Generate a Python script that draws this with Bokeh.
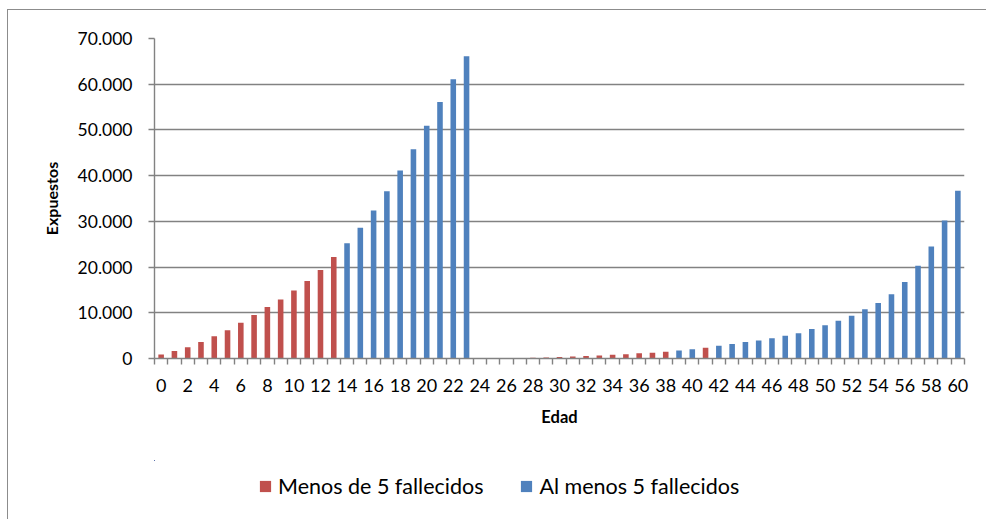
from bokeh.plotting import figure
from bokeh.layouts import column
from bokeh.models import ColumnDataSource, FixedTicker, Legend, LegendItem
from bokeh.embed import file_html
from bokeh.resources import INLINE

# ---- data ----
edad = list(range(61))
expuestos = [
    850, 1650, 2450, 3600, 4850, 6200, 7800, 9500, 11250, 12900,
    14850, 16950, 19350, 22200, 25200, 28600, 32400, 36600, 41100, 45800,
    50900, 56100, 61100, 66100, 20, 40, 70, 110, 160, 230,
    330, 430, 560, 650, 800, 950, 1150, 1250, 1450, 1750,
    2050, 2350, 2800, 3150, 3600, 3950, 4450, 4950, 5550, 6450,
    7300, 8250, 9350, 10800, 12150, 14050, 16750, 20300, 24500, 30200,
    36700,
]
grupo = (["Menos de 5 fallecidos"] * 14 + ["Al menos 5 fallecidos"] * 10 +
         ["Menos de 5 fallecidos"] * 15 + ["Al menos 5 fallecidos"] * 2 +
         ["Menos de 5 fallecidos"] * 1 + ["Al menos 5 fallecidos"] * 19)
series = ["Menos de 5 fallecidos", "Al menos 5 fallecidos"]
colores = ["#C0504D", "#4F81BD"]
y_ticks = [0, 10000, 20000, 30000, 40000, 50000, 60000, 70000]
y_labels = ["0", "10.000", "20.000", "30.000", "40.000", "50.000", "60.000", "70.000"]
x_ticks = list(range(0, 61, 2))

FONT = "Lato"
GRIS = "#828282"

p = figure(width=986, height=460, output_backend="svg", toolbar_location=None,
           x_range=(-0.5, 60.5), y_range=(0, 70000))
p.min_border_left = 154
p.min_border_right = 22
p.min_border_top = 38
p.min_border_bottom = 102
p.outline_line_color = None
p.background_fill_color = "white"
p.border_fill_alpha = 0

# legend strip (separate canvas so the legend can sit below the axis title);
# its ranges keep the bars out of view, only the legend is shown
pl = figure(width=986, height=59, output_backend="svg", toolbar_location=None,
            x_range=(1000, 1001), y_range=(-2000000, -1000000))
pl.min_border = 0
pl.axis.visible = False
pl.grid.visible = False
pl.outline_line_color = None
pl.background_fill_alpha = 0
pl.border_fill_alpha = 0

items = []
for s, c in zip(series, colores):
    xs = [e for e, g in zip(edad, grupo) if g == s]
    ys = [v for v, g in zip(expuestos, grupo) if g == s]
    src = ColumnDataSource(dict(x=xs, top=ys))
    p.vbar(x="x", top="top", width=0.42, bottom=0, source=src,
           fill_color=c, line_color=None)
    r = pl.vbar(x="x", top="top", width=0.42, bottom=0, source=src,
                fill_color=c, line_color=None)
    items.append(LegendItem(label=s, renderers=[r]))

# grid
p.xgrid.grid_line_color = None
p.ygrid.grid_line_color = GRIS
p.ygrid.grid_line_width = 1.4
p.ygrid.ticker = FixedTicker(ticks=y_ticks)

# y axis
ya = p.yaxis[0]
ya.ticker = FixedTicker(ticks=y_ticks)
ya.major_label_overrides = {t: l for t, l in zip(y_ticks, y_labels)}
ya.axis_line_color = GRIS
ya.axis_line_width = 1.4
ya.major_tick_line_color = GRIS
ya.major_tick_line_width = 1.4
ya.major_tick_out = 6
ya.major_tick_in = 0
ya.minor_tick_line_color = None
ya.major_label_text_font = FONT
ya.major_label_text_font_size = "17.5px"
ya.major_label_text_color = "black"
ya.major_label_standoff = 16
ya.axis_label = "Expuestos"
ya.axis_label_text_font = FONT
ya.axis_label_text_font_size = "16px"
ya.axis_label_text_font_style = "bold"
ya.axis_label_text_color = "black"
ya.axis_label_standoff = 14

# x axis
xa = p.xaxis[0]
xa.ticker = FixedTicker(ticks=x_ticks, minor_ticks=[k - 0.5 for k in range(62)])
xa.major_label_overrides = {t: str(t) for t in x_ticks}
xa.axis_line_color = GRIS
xa.axis_line_width = 1.4
xa.major_tick_line_color = None
xa.minor_tick_line_color = GRIS
xa.minor_tick_line_width = 1.4
xa.minor_tick_out = 6
xa.minor_tick_in = 0
xa.major_label_text_font = FONT
xa.major_label_text_font_size = "18px"
xa.major_label_text_color = "black"
xa.major_label_standoff = 14
xa.axis_label = "Edad"
xa.axis_label_text_font = FONT
xa.axis_label_text_font_size = "16.5px"
xa.axis_label_text_font_style = "bold"
xa.axis_label_text_color = "black"
xa.axis_label_standoff = 12

legend = Legend(items=items, orientation="horizontal", location=(104, 20),
                border_line_color=None, background_fill_alpha=0,
                glyph_width=14, glyph_height=14, label_standoff=6, spacing=36,
                padding=0, margin=0,
                label_text_font=FONT, label_text_font_size="21.5px",
                label_text_color="black")
pl.add_layout(legend, "center")

layout = column(p, pl, spacing=0)
layout.styles = {
    "background-image": "linear-gradient(#8c8c8c, #8c8c8c), linear-gradient(#8c8c8c, #8c8c8c)",
    "background-position": "7px 9px, 7px 9px",
    "background-size": "1px 100%, 100% 1px",
    "background-repeat": "no-repeat, no-repeat",
}

open("out.html", "w").write(file_html(layout, INLINE))
